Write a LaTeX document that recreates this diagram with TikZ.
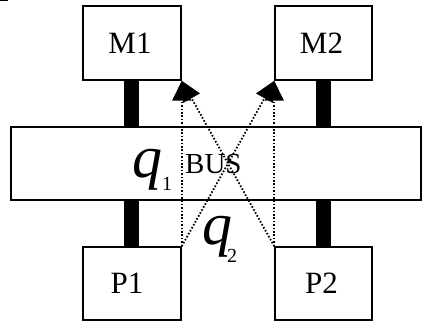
\documentclass[tikz,border=0pt]{standalone}
\usepackage{fontspec}
\setmainfont{Liberation Serif}
\usetikzlibrary{arrows.meta}
\tikzset{
  box/.style={draw, line width=1.5pt, rectangle, inner sep=0pt, font=\fontsize{31}{31}\selectfont},
  bar/.style={line width=15pt},
  flow/.style={line width=1.8pt, dash pattern=on 1.6pt off 1.8pt, -{Triangle[length=20pt,width=19pt]}},
  bigq/.style={inner sep=0pt, anchor=base west, font=\fontsize{60}{60}\selectfont\itshape},
  subs/.style={inner sep=0pt, anchor=base west, font=\fontsize{20}{20}\selectfont},
}
\begin{document}
\begin{tikzpicture}[x=1pt,y=-1pt]
\useasboundingbox (0,0) rectangle (423,326);
\draw[line width=1.5pt] (0,0.75) -- (8,0.75);
\node[box, minimum width=98pt, minimum height=74pt] (M1) at (132,43) {\hspace*{-4pt}M1};
\node[box, minimum width=97pt, minimum height=74pt] (M2) at (323.5,43) {\hspace*{-4pt}M2};
\node[box, minimum width=410pt, minimum height=73pt] (bus) at (216,163.5) {};
\node[box, minimum width=98pt, minimum height=73pt] (P1) at (132,283.5) {\hspace*{-10pt}P1};
\node[box, minimum width=97pt, minimum height=73pt] (P2) at (323.5,283.5) {\hspace*{-4pt}P2};
\node[inner sep=0pt, anchor=base west, font=\fontsize{29}{29}\selectfont] (buslabel) at (185,173) {BUS};
\draw[bar] ([xshift=-0.5pt]M1.south) -- ([xshift=-0.5pt]M1.south |- bus.north);
\draw[bar] ([xshift=-0.5pt]M2.south) -- ([xshift=-0.5pt]M2.south |- bus.north);
\draw[bar] ([xshift=-0.5pt]P1.north) -- ([xshift=-0.5pt]P1.north |- bus.south);
\draw[bar] ([xshift=-0.5pt]P2.north) -- ([xshift=-0.5pt]P2.north |- bus.south);
\draw[flow] (P1.north east) -- (M1.south east);
\draw[flow] (P2.north west) -- (M1.south east);
\draw[flow] (P2.north west) -- (M2.south west);
\draw[flow] (P1.north east) -- (M2.south west);
\node[bigq] (q1) at (132,178) {q};
\node[subs] (s1) at (162,190) {1};
\node[bigq] (q2) at (202,244) {q};
\node[subs] (s2) at (227,262) {2};
\end{tikzpicture}
\end{document}
